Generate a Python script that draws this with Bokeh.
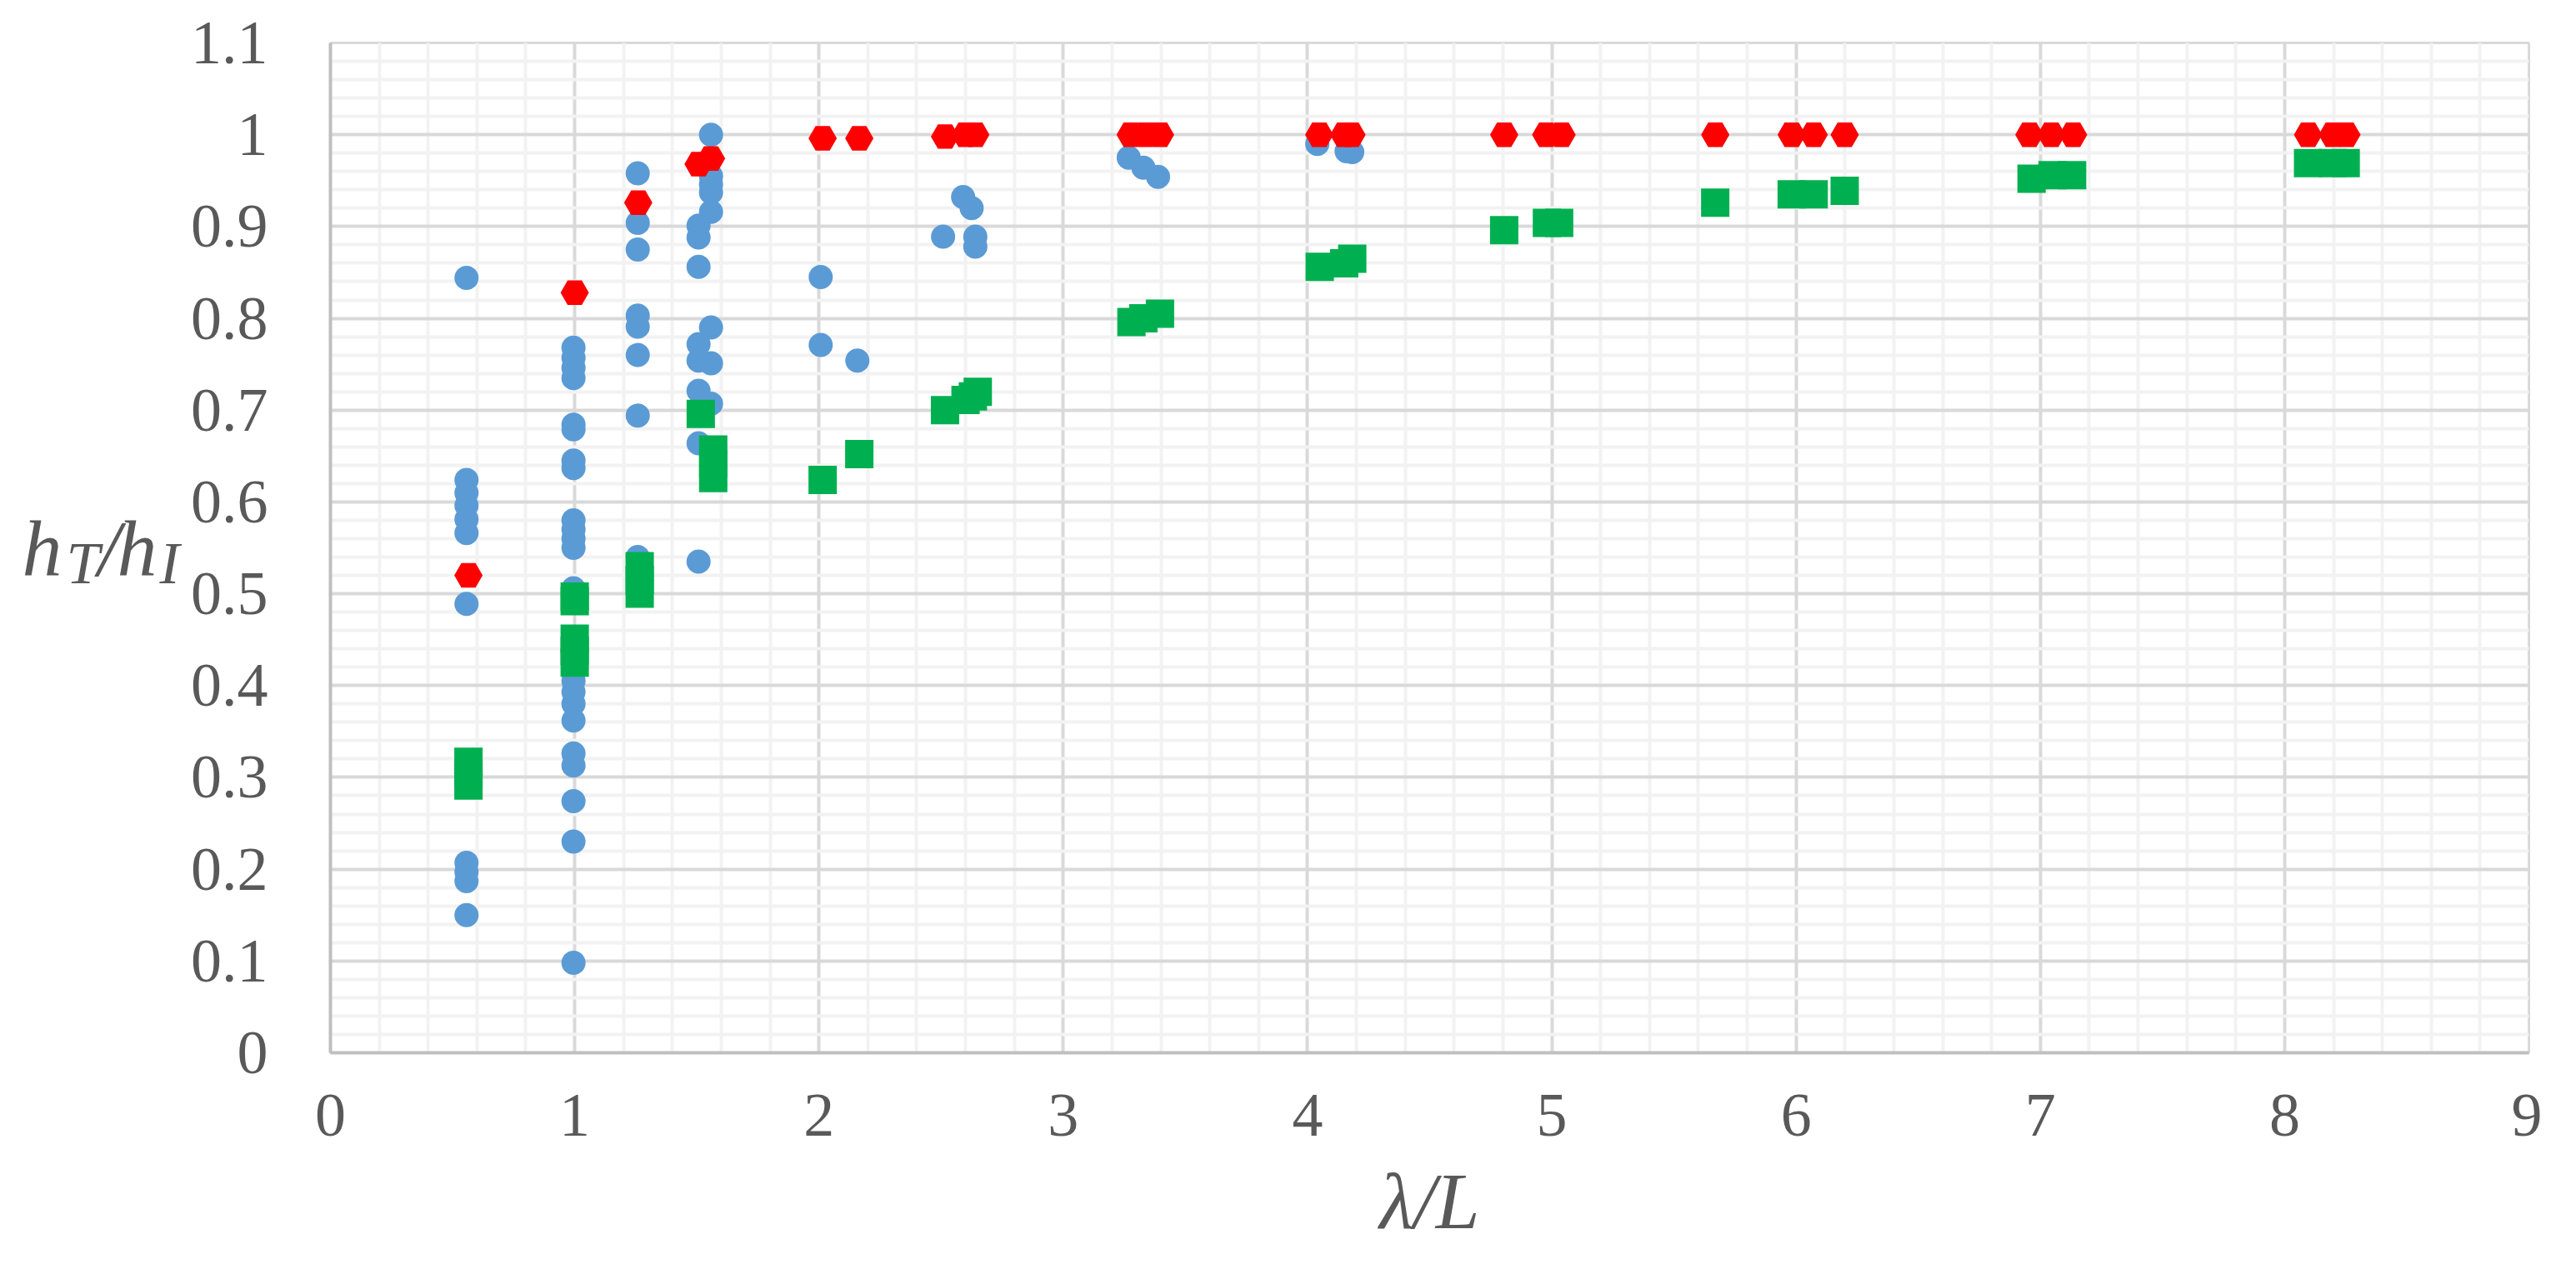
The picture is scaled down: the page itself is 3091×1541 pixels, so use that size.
from bokeh.plotting import figure
from bokeh.models import FixedTicker, Range1d
from bokeh.layouts import row
from bokeh.core.properties import value
from bokeh.embed import file_html
from bokeh.resources import INLINE

# ---------------- data ----------------
blue_x = [0.557, 0.557, 0.557, 0.557, 0.557, 0.557, 0.557, 0.557, 0.557, 0.557, 0.557,
          0.995, 0.995, 0.995, 0.995, 0.995, 0.995, 0.995, 0.995, 0.995, 0.995, 0.995, 0.995,
          0.995, 0.995, 0.995, 0.995, 0.995, 0.995, 0.995, 0.995, 0.995, 0.995, 0.995,
          1.258, 1.258, 1.258, 1.258, 1.258, 1.258, 1.258, 1.258,
          1.558, 1.558, 1.558, 1.558, 1.558, 1.507, 1.507, 1.507, 1.558, 1.507, 1.507,
          1.558, 1.507, 1.558, 1.507, 1.507,
          2.007, 2.007, 2.157, 2.508, 2.59, 2.625, 2.64, 2.64,
          3.268, 3.328, 3.388, 4.04, 4.16, 4.183,
          4.805, 4.977, 5.04, 5.669, 5.982, 6.072, 6.199, 6.955, 7.045, 7.134, 8.096, 8.197]
blue_y = [0.844, 0.624, 0.610, 0.596, 0.581, 0.566, 0.489, 0.207, 0.197, 0.187, 0.150,
          0.768, 0.757, 0.746, 0.735, 0.684, 0.679, 0.645, 0.637, 0.580, 0.570, 0.560, 0.550,
          0.506, 0.405, 0.393, 0.380, 0.362, 0.326, 0.313, 0.274, 0.230, 0.098, 0.415,
          0.958, 0.904, 0.875, 0.803, 0.791, 0.760, 0.694, 0.540,
          1.000, 0.955, 0.946, 0.937, 0.916, 0.901, 0.888, 0.856, 0.790, 0.772, 0.754,
          0.751, 0.721, 0.707, 0.664, 0.535,
          0.845, 0.771, 0.754, 0.889, 0.932, 0.920, 0.889, 0.878,
          0.975, 0.964, 0.954, 0.990, 0.982, 0.981,
          1.0, 1.0, 1.0, 1.0, 1.0, 1.0, 1.0, 1.0, 1.0, 1.0, 1.0, 1.0]

red_x = [0.565, 1.0, 1.26, 1.507, 1.558, 2.015, 2.165, 2.516, 2.60, 2.64,
         3.276, 3.336, 3.396, 4.048, 4.15, 4.18, 4.805, 4.977, 5.04, 5.669,
         5.982, 6.072, 6.199, 6.955, 7.045, 7.134, 8.096, 8.197, 8.253]
red_y = [0.520, 0.828, 0.926, 0.968, 0.974, 0.996, 0.996, 0.998, 1.0, 1.0,
         1.0, 1.0, 1.0, 1.0, 1.0, 1.0, 1.0, 1.0, 1.0, 1.0,
         1.0, 1.0, 1.0, 1.0, 1.0, 1.0, 1.0, 1.0, 1.0]

green_x = [0.565, 0.565, 0.565, 1.0, 1.0, 1.0, 1.0, 1.0, 1.266, 1.266, 1.266,
           1.516, 1.567, 1.567, 1.567, 2.015, 2.165, 2.516, 2.60, 2.63, 2.65,
           3.279, 3.328, 3.396, 4.05, 4.15, 4.183, 4.805, 4.98, 5.03,
           5.669, 5.982, 6.072, 6.199, 6.964, 7.05, 7.13, 8.096, 8.197, 8.25]
green_y = [0.317, 0.305, 0.291, 0.497, 0.492, 0.451, 0.438, 0.425, 0.530, 0.515, 0.500,
           0.696, 0.657, 0.642, 0.626, 0.624, 0.652, 0.700, 0.711, 0.715, 0.720,
           0.796, 0.800, 0.805, 0.856, 0.860, 0.865, 0.896, 0.904, 0.904,
           0.926, 0.935, 0.935, 0.939, 0.952, 0.956, 0.956, 0.969, 0.969, 0.969]

x_ticks = [0, 1, 2, 3, 4, 5, 6, 7, 8, 9]
x_tick_labels = ["0", "1", "2", "3", "4", "5", "6", "7", "8", "9"]
y_ticks = [0, 0.1, 0.2, 0.3, 0.4, 0.5, 0.6, 0.7, 0.8, 0.9, 1, 1.1]
y_tick_labels = ["0", "0.1", "0.2", "0.3", "0.4", "0.5", "0.6", "0.7", "0.8", "0.9", "1", "1.1"]

# y-axis title pieces: h_T / h_I
ylab_text = ["h", "T", "/", "h", "I"]
ylab_size = ["96px", "72px", "96px", "96px", "72px"]

# ---------------- styling ----------------
FONT = "Liberation Serif"
TXT = "#595959"
LEFT_W = 225
MAIN_W = 2825
H = 1520

# ---------------- left strip with the y-axis title ----------------
pl = figure(width=LEFT_W, height=H, output_backend="svg", toolbar_location=None,
            x_range=Range1d(0, LEFT_W), y_range=Range1d(H, 0),
            x_axis_location=None, y_axis_location=None,
            min_border=0, min_border_left=0, min_border_right=0,
            min_border_top=0, min_border_bottom=0)
pl.grid.visible = False
pl.outline_line_color = None
pl.background_fill_color = "white"
pl.border_fill_color = "white"
pl.text(x=[26, 79, 117, 140, 191], y=[761, 783, 761, 761, 783], text=ylab_text,
        text_font=value(FONT), text_font_style="italic", text_font_size=ylab_size,
        text_color=TXT, text_align="left", text_baseline="alphabetic")

# ---------------- main chart ----------------
p = figure(width=MAIN_W, height=H, output_backend="svg", toolbar_location=None,
           x_range=Range1d(0, 9), y_range=Range1d(0, 1.1),
           min_border_left=393 - LEFT_W, min_border_right=16,
           min_border_top=51, min_border_bottom=257)
p.background_fill_color = "white"
p.border_fill_color = "white"
p.outline_line_color = "#d9d9d9"
p.outline_line_width = 3

x_minor = [round(i * 0.2, 2) for i in range(46) if i % 5 != 0]
y_minor = [round(i * 0.02, 2) for i in range(56) if i % 5 != 0]
p.xaxis.ticker = FixedTicker(ticks=x_ticks, minor_ticks=x_minor)
p.yaxis.ticker = FixedTicker(ticks=y_ticks, minor_ticks=y_minor)
p.xaxis.major_label_overrides = dict(zip(x_ticks, x_tick_labels))
p.yaxis.major_label_overrides = dict(zip(y_ticks, y_tick_labels))

for g in p.grid:
    g.grid_line_color = "#d9d9d9"
    g.grid_line_width = 4
    g.minor_grid_line_color = "#f2f2f2"
    g.minor_grid_line_width = 4

for ax in (p.xaxis[0], p.yaxis[0]):
    ax.axis_line_color = "#bfbfbf"
    ax.axis_line_width = 4
    ax.major_tick_line_color = None
    ax.minor_tick_line_color = None
    ax.major_tick_out = 0
    ax.major_tick_in = 0
    ax.major_label_text_font = FONT
    ax.major_label_text_font_size = "74px"
    ax.major_label_text_color = TXT

p.yaxis.major_label_standoff = 71
p.xaxis.major_label_standoff = 46

p.xaxis.axis_label = "λ/L"
p.xaxis.axis_label_text_font = FONT
p.xaxis.axis_label_text_font_style = "italic"
p.xaxis.axis_label_text_font_size = "95px"
p.xaxis.axis_label_text_color = TXT
p.xaxis.axis_label_standoff = 23

p.scatter(blue_x, blue_y, marker="circle", size=29, fill_color="#5B9BD5", line_color=None)
p.scatter(red_x, red_y, marker="hex", size=34, fill_color="#FF0000", line_color=None)
p.scatter(green_x, green_y, marker="square", size=34, fill_color="#00B050", line_color=None)

layout = row(pl, p, spacing=0)
open("out.html", "w").write(file_html(layout, INLINE))
